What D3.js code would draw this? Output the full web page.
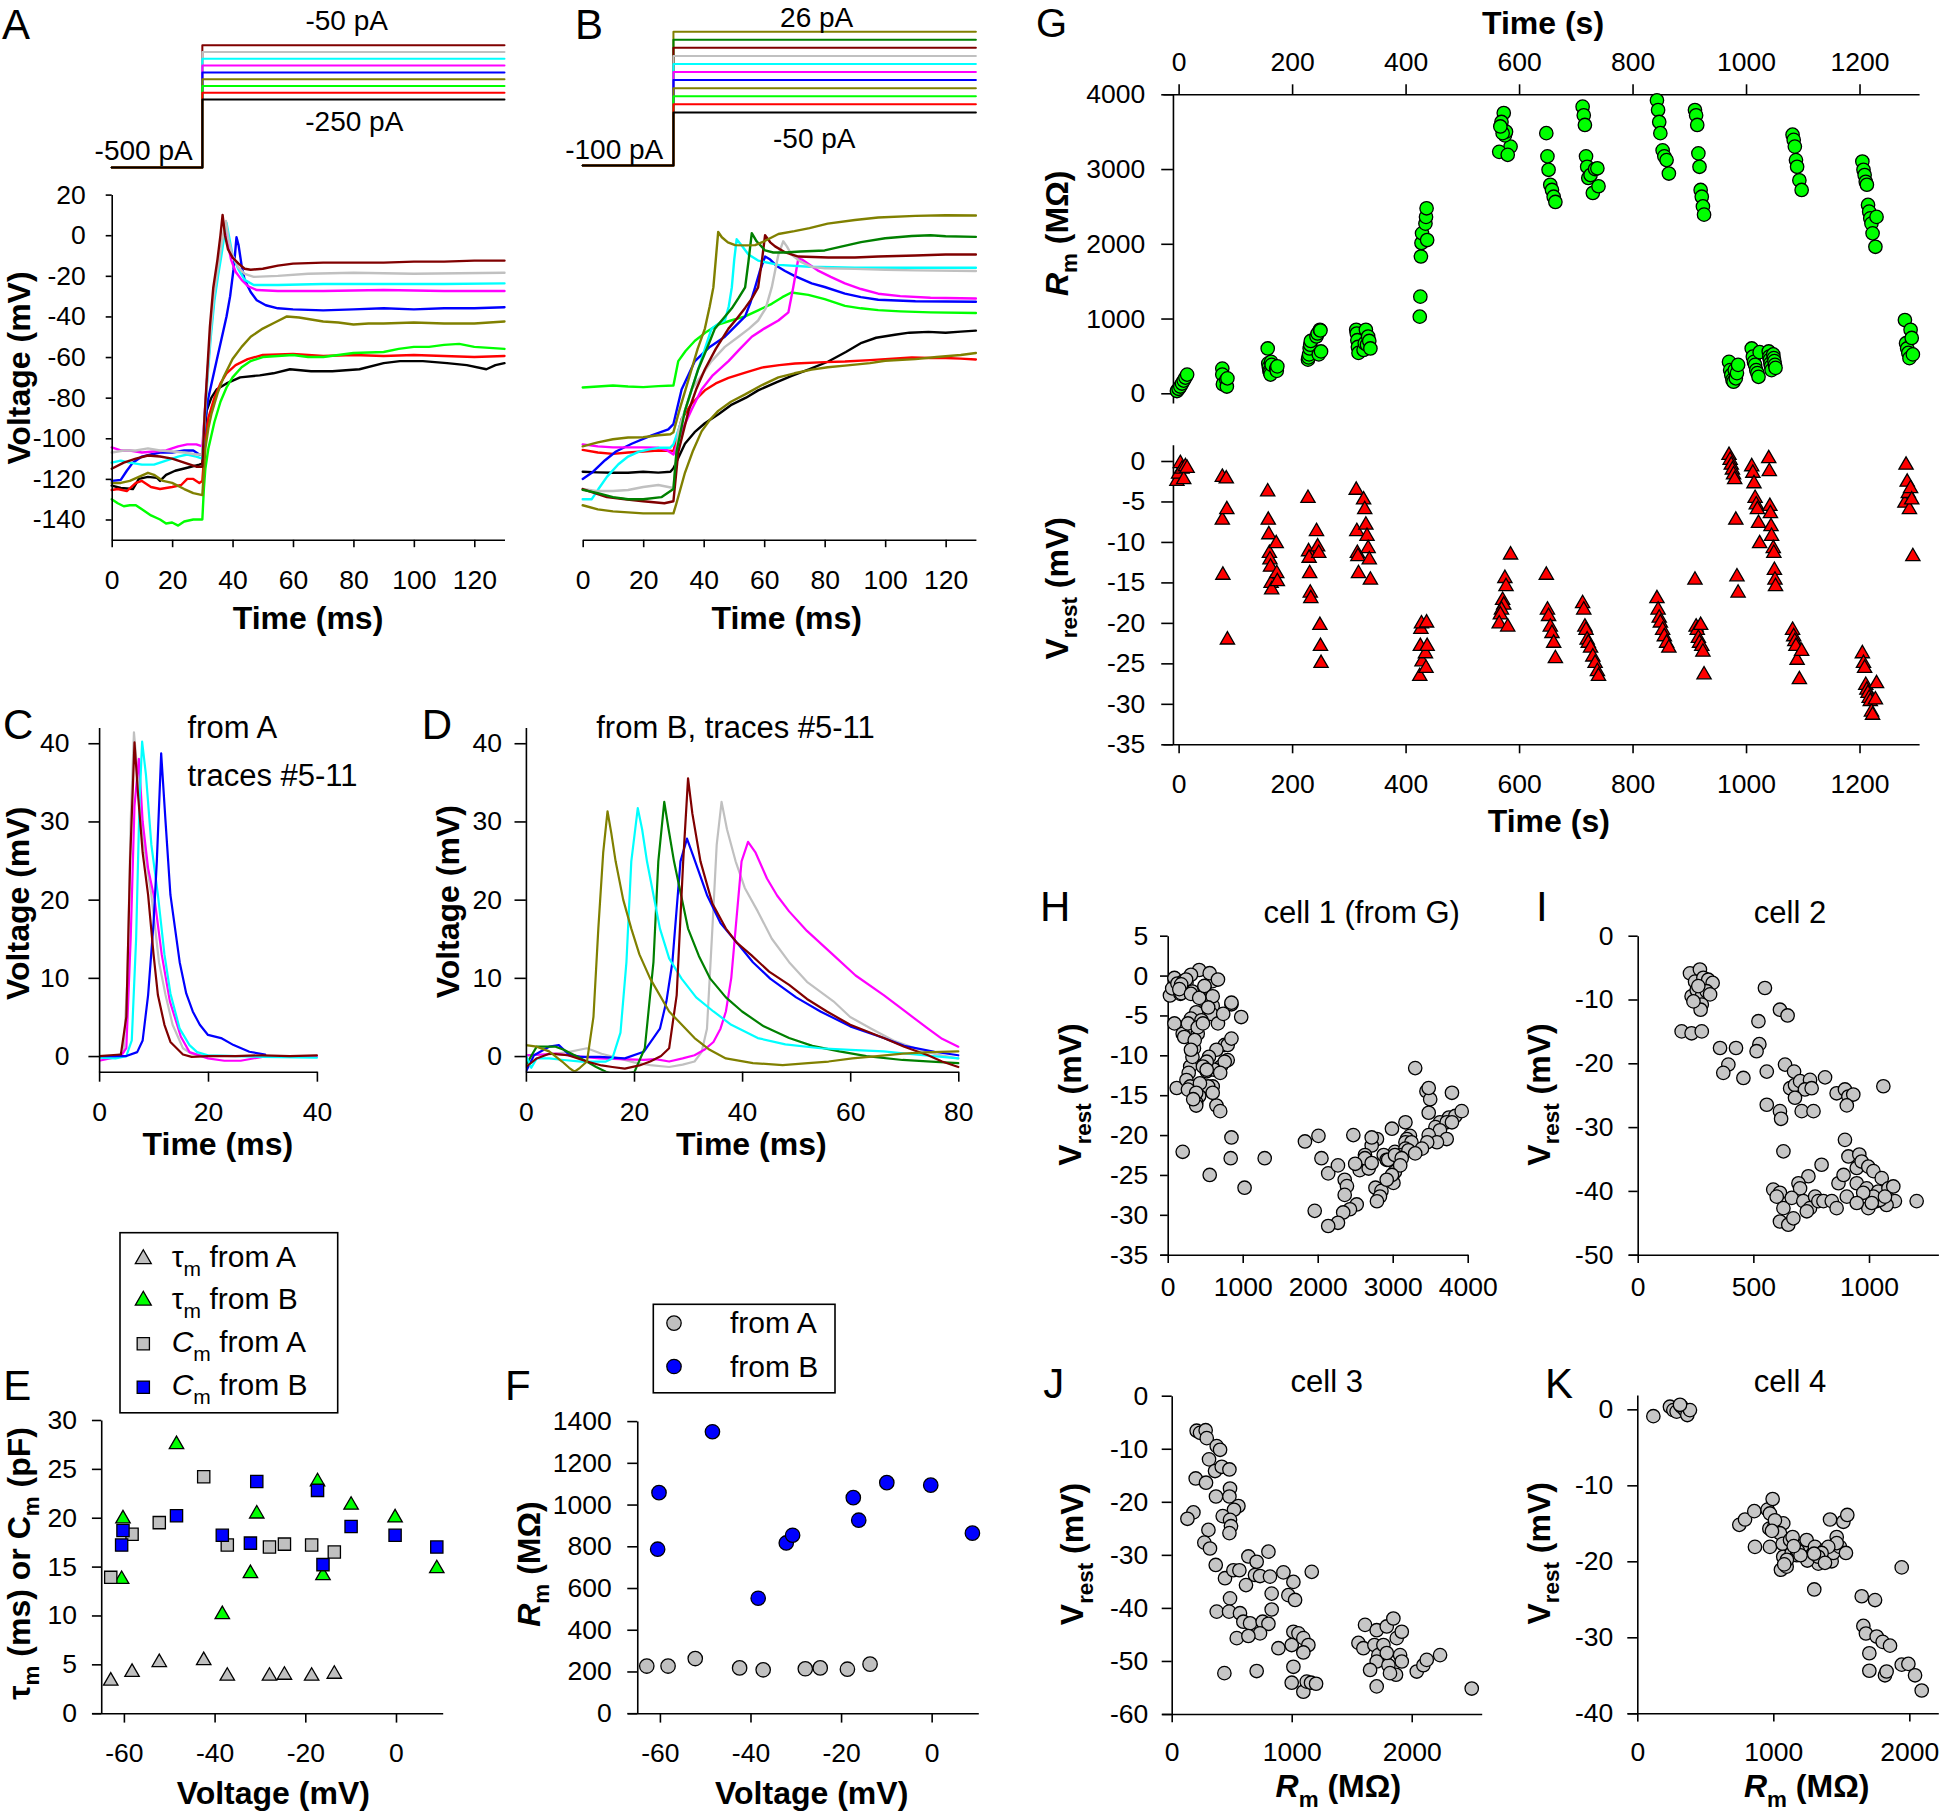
<!DOCTYPE html>
<html><head><meta charset="utf-8">
<script src="https://cdn.jsdelivr.net/npm/d3@7"></script>
<style>html,body{margin:0;padding:0;background:#fff;}svg{display:block;}</style>
</head><body>
<svg id="fig" width="1944" height="1818" xmlns="http://www.w3.org/2000/svg"></svg>
<script>
// ================= DATA =================
// Panel A: current steps (pA) and voltage traces [time ms, mV]
const holdA = -500, stepOnset = 30, stepEnd = 130;
const stimA = [-250,-225,-200,-175,-150,-125,-100,-75,-50];
const colorsA = ['#000000','#ff0000','#00ff00','#808000','#0000ff','#ff00ff','#00ffff','#c0c0c0','#800000'];
const A_black = [[0,-123.3],[3,-124.5],[7,-125],[9,-120],[12,-119],[15,-119.5],[16,-121],[18,-118],[21,-116],[25,-114.5],[29,-113],[30,-112.5],[31.4,-86.5],[33,-80],[34.7,-76],[38,-73],[42.5,-70],[49,-69],[53.5,-68],[59,-66],[66,-67],[73,-67],[82,-66],[90,-63],[95.4,-62],[103,-62],[111,-63],[117.5,-64],[124,-66],[127,-64],[130,-63]];
const A_red = [[0,-125.5],[2,-125],[5,-126],[8,-122],[10,-121],[13,-124],[16,-125],[20,-124],[23,-123],[25,-120],[27,-120],[29,-122],[30,-121],[31,-100],[32,-90],[34,-80],[36,-73],[38,-68],[41,-64],[45,-61],[50,-59],[60,-58.5],[70,-59.5],[80,-59],[90,-59.5],[100,-59],[110,-59.5],[120,-60],[130,-59.5]];
const A_green = [[0,-130],[2,-132],[4,-133.5],[6,-133],[8,-133],[10,-135],[13,-138],[16,-140],[18,-142],[20,-141.5],[22,-143],[24,-141],[27,-140],[30,-140],[30.5,-125],[31,-115],[32,-105],[34,-92],[36,-82],[38,-75],[40,-70],[43,-65],[46,-62],[50,-60],[55,-59.5],[60,-59],[65,-60],[70,-60],[75,-59],[80,-58],[90,-57.5],[95,-56],[100,-55],[105,-55],[110,-54],[115,-53.5],[120,-55],[130,-56]];
const A_olive = [[0,-122],[3,-122],[6,-121],[9,-119],[12,-117],[14,-118],[17,-121],[20,-122],[24,-125],[27,-127],[30,-128],[31,-105],[32,-95],[33,-88],[35,-78],[37,-70],[40,-61],[43,-55],[46,-50],[50,-46],[54,-43],[58,-40],[62,-40.5],[66,-41.5],[70,-42.5],[75,-43],[80,-44],[85,-43.5],[90,-43.5],[100,-43],[110,-43.5],[120,-43.5],[130,-42.5]];
const A_blue = [[0,-121],[3,-120.5],[5,-116],[7,-112],[10,-109],[13,-108],[16,-107],[20,-107],[24,-106],[27,-106],[29,-108],[30,-108],[31,-90],[32,-80],[34.7,-62],[36.5,-50],[38,-40],[39.2,-30],[40.3,-17],[40.8,-9.5],[41.3,-1],[42,-5],[43,-15],[44,-22],[46,-28],[48,-32],[51,-34.5],[55,-36],[60,-36.5],[70,-37],[80,-36.5],[90,-36],[100,-36.5],[110,-36],[120,-36],[130,-35.5]];
const A_magenta = [[0,-104.5],[3,-106],[6,-106],[10,-107],[14,-106.5],[18,-106],[22,-104],[25,-103],[28,-103],[30,-104],[30.8,-88],[31.6,-70],[32.6,-50],[33.8,-32],[35,-20],[36,-10],[37,0],[37.6,3],[38.3,-3],[39.5,-12],[41,-18],[43,-22],[45,-25],[48,-27],[55,-27.5],[70,-27.5],[90,-27],[110,-27.5],[130,-27.5]];
const A_cyan = [[0,-112],[3,-111],[6,-112],[10,-113],[14,-113],[18,-111],[22,-109],[25,-108],[28,-109],[30,-110],[30.8,-90],[31.7,-70],[32.8,-50],[34,-32],[35.2,-20],[36.3,-10],[37.3,0],[38,6],[39,-2],[40,-10],[42,-17],[44,-22],[47,-24.5],[55,-24.5],[70,-24],[90,-24],[110,-24],[130,-23.7]];
const A_gray = [[0,-107],[4,-106],[8,-106],[12,-105],[16,-106],[20,-106.5],[24,-107],[28,-108],[30,-108],[30.8,-88],[31.7,-68],[32.7,-48],[33.8,-30],[35,-18],[36.2,-6],[37.2,3],[37.8,7],[38.6,-2],[40,-10],[42,-16],[44,-19],[47,-20.5],[55,-20],[65,-19],[80,-18.5],[100,-19],[130,-18.5]];
const A_brown = [[0,-115],[4,-112],[8,-110],[12,-108.5],[16,-109],[20,-110],[24,-112],[28,-114],[30,-114],[30.7,-90],[31.5,-70],[32.5,-45],[33.6,-26],[35,-12],[36,0],[36.7,10],[37.5,0],[38.5,-7],[40,-11],[42,-14],[44,-16.5],[46,-17],[50,-16.5],[55,-15],[60,-14],[70,-13.5],[80,-13.5],[90,-13.5],[100,-13],[110,-13],[120,-12.5],[130,-12.5]];

// Panel B
const holdB = -100;
const stimB = [-50,-42.4,-34.8,-27.2,-19.6,-12,-4.4,3.2,10.8,18.4,26];
const colorsB = ['#000000','#ff0000','#00ff00','#808000','#0000ff','#ff00ff','#00ffff','#c0c0c0','#800000','#008000','#808000'];
const B_black = [[0,-116.5],[5,-116.8],[10,-117],[15,-117],[20,-116.5],[25,-116.9],[29,-116.5],[30,-114.8],[33.8,-102.7],[37,-97],[40.4,-92.6],[45,-88],[49.3,-83.4],[54,-80],[58,-76.4],[64,-72.5],[69.1,-69.3],[75,-66],[81.2,-62.2],[87,-57.5],[92.2,-53],[97,-50.5],[103.2,-49],[108,-48],[114.3,-47.6],[120,-48],[125,-47.5],[130,-47]];
const B_red = [[0,-105.7],[5,-107],[10,-107.7],[15,-107],[20,-106.5],[25,-106],[30,-106.3],[32.7,-90.5],[36,-83],[40.4,-76.4],[44,-73],[48.2,-70.3],[54,-67.5],[59.2,-65.2],[65,-64],[70.2,-63.2],[80,-62.5],[86.7,-62.2],[95,-61.5],[100,-61],[108.8,-60.2],[115,-60.5],[120,-60.5],[125,-60.8],[130,-61.2]];
const B_green = [[0,-75],[5,-74.5],[10,-74],[15,-74.5],[20,-74.8],[25,-74.3],[30,-74],[31.6,-62],[34,-57],[37.1,-52],[41,-47.5],[44.8,-44],[49,-42],[53.7,-40],[58,-37],[62.5,-33.8],[66,-30.5],[69,-28.2],[74.6,-29.4],[80,-31.5],[86.7,-34.8],[92,-36],[97.7,-36.9],[105,-37.5],[115,-38],[130,-38.3]];
const B_olive2 = [[0,-133],[5,-135],[10,-136],[15,-136.5],[20,-137],[25,-137],[30,-137],[31,-132],[33.8,-117],[36.5,-106],[39.3,-96.6],[42,-91],[44.8,-86.5],[49,-82],[53.7,-78.4],[59,-74],[64.7,-70],[70,-68],[75.7,-66.2],[81,-65],[86.7,-64.2],[95,-63],[100,-61.8],[110,-61],[117,-60],[125,-59],[130,-58]];
const B_blue = [[0,-120],[3,-117],[7.4,-110.8],[11,-106.5],[16.2,-102.7],[22.8,-98.6],[28.3,-95.6],[30,-93],[32.7,-76],[37.1,-62],[42,-55],[47,-50],[50,-45.5],[53.7,-40],[55.5,-33],[57,-25.7],[58.5,-18],[60.3,-10.5],[62,-12],[64,-15],[66.9,-17.6],[70,-20],[75.7,-23.7],[80,-25.5],[86.7,-28.8],[92,-30.5],[97.7,-31.8],[110,-32.5],[130,-32.8]];
const B_magenta = [[0,-103],[5,-104],[10,-104.5],[15,-104.5],[20,-104.5],[25,-104.7],[28,-106],[30,-108],[32.7,-96.6],[36,-86],[39.3,-76],[43,-69],[48.2,-62],[52,-56],[55.9,-50],[60,-46],[64.7,-42],[68,-38],[69.6,-25.7],[71.3,-11.5],[72.5,-12],[75,-14.5],[78,-17.6],[82,-20.5],[86.7,-23.7],[92,-26.5],[97.7,-28.8],[105,-30],[115,-30.8],[130,-31.2]];
const B_cyan = [[0,-130],[3,-130],[5.2,-125],[8,-119],[11.8,-112.8],[15,-109],[18.4,-106.7],[22,-105.5],[25,-104.7],[28.9,-104.7],[30,-103],[33.8,-86.5],[38.2,-66],[42.6,-46],[45,-43.5],[47,-42],[48.3,-35],[49.3,-25.7],[50.1,-12],[50.9,-2],[52.5,-5],[54.8,-9.5],[58,-12.5],[64.7,-14.6],[75,-15.5],[90,-16],[110,-16],[130,-16]];
const B_gray = [[0,-125],[5,-126],[10,-126],[15,-125.5],[20,-124],[25,-123],[30,-124.5],[31.6,-96.6],[36,-76],[42.6,-62],[47,-55],[51.5,-50],[55,-46],[58,-42],[60.5,-36],[62.5,-25.7],[64.7,-9.5],[66.3,-3],[67.5,-5.5],[69,-9.5],[72,-13],[75.7,-15.6],[80,-16.3],[90,-16.6],[100,-17],[110,-17.3],[130,-17.6]];
const B_brown = [[0,-125],[4,-127],[8,-129],[14,-130],[20,-131],[27,-132],[30,-131],[31.6,-106.7],[35,-86.5],[37.5,-76],[40.4,-66],[44,-56],[48.2,-46],[51,-41],[53.7,-35.8],[56,-31],[58,-25.7],[59.3,-12],[60.3,0],[62,-3.5],[63.6,-5.5],[67,-8.5],[71.3,-10.5],[81.2,-11],[90,-11],[97.7,-10.5],[110,-10],[120,-9.5],[130,-9.5]];
const B_dkgreen = [[0,-125.4],[5,-127],[10,-129],[15,-130],[20,-130],[26,-129],[30,-125],[31,-106.7],[33.8,-86.5],[36,-76],[38.2,-66],[41,-56],[43.7,-46],[46.5,-41],[49.3,-36],[51.5,-31],[53.7,-25.7],[54.8,-13],[55.9,1],[57.5,-3],[60.3,-7.5],[63,-8.5],[66.9,-8.5],[72,-8],[80,-7.5],[92,-3.4],[100,-1.5],[108.8,-0.4],[115,0],[120,-0.5],[130,-0.8]];
const B_olive1 = [[0,-104],[5,-102],[10,-100.5],[15,-99.6],[20,-99.5],[25,-98.5],[29,-98],[30,-97],[32,-86],[34,-76],[36,-66],[38,-56],[40.4,-46],[42,-35],[43.2,-25.7],[44,-12],[44.8,1.6],[46,-1],[48,-3.5],[50.4,-4.9],[54,-5],[57,-4.9],[60,-3],[64.7,0.6],[70,2],[75,3.5],[81,5.7],[90,7.5],[97.7,8.7],[110,9.5],[120,9.8],[130,9.7]];

// Panel C (from A, traces #5-11)
const C_gray = [[0,0],[3,0],[4.5,0.5],[5.2,10],[5.8,30],[6.4,41.4],[7.2,35],[8,28],[9.6,20.6],[11,12],[12.2,7.8],[13.5,4],[15.4,1],[17,0.3],[19,0.1],[25,0],[40,0]];
const C_magenta = [[0,-0.6],[2,-0.3],[4,0],[5,1],[5.8,15],[6.5,32],[7.3,38],[8,30],[9,24],[10.2,20],[11.5,13],[13,7],[15,2.5],[16.6,0.5],[20,-0.3],[23,-0.6],[26,-0.6],[30,-0.1],[40,0]];
const C_cyan = [[0,-0.2],[3,-0.3],[5,0],[6,2],[6.8,15],[7.4,32],[7.9,40.2],[8.6,36],[9.6,27],[10.8,20.6],[12,13],[13.1,8],[14.8,3.5],[16.6,1.4],[18,0.5],[20,0.1],[30,-0.1],[40,-0.2]];
const C_blue = [[0,0],[3,0],[5,0],[7,0.5],[8,2],[9,7.8],[10,17],[10.6,24.9],[11.4,38.7],[12.2,30],[13.1,20.6],[14.8,12],[16,8],[17.2,5.7],[18.5,4],[20,2.7],[22.4,2.3],[24.7,1.4],[27.6,0.55],[30.5,0.2]];
const C_brown = [[0,0],[2,0.1],[4,0.2],[5,5],[5.7,25],[6.5,40.1],[7.2,33],[8,26],[9,20.6],[10,13],[10.8,7.8],[12,4],[13.1,1.8],[15.4,0.2],[17,-0.1],[20,0],[25,0],[30,0.1],[35,0],[40,0.1]];

// Panel D (from B, traces #5-11)
const D_olive = [[0,1.4],[2,1.2],[4.3,0.6],[6.7,-0.7],[8,-1.5],[9,-2],[10,-1.5],[11.3,-0.7],[12.5,5],[13.4,16.3],[14.3,26],[15.1,31.3],[15.8,28.5],[16.6,24.9],[18,20],[19.5,16.3],[21,13],[23,9.9],[26.5,5.7],[31.2,2.3],[34,0.8],[37,-0.3],[42,-0.9],[47.5,-1.15],[52.2,-0.9],[56,-0.7],[60.4,-0.3],[65,0],[69.7,0.3],[75,0.5],[80,0.6]];
const D_cyan = [[0,0.1],[1,-1.5],[2,-0.3],[4.3,-0.3],[7,-0.5],[10.2,-0.7],[14.8,-0.7],[16,-0.3],[17.5,3],[18.6,12],[19.5,24.9],[20.7,31.7],[21.5,29],[22.4,24.9],[24.8,16.3],[26.5,12.5],[28.8,9.9],[31.5,7.5],[34.7,5.7],[38,4],[42.9,2.3],[48,1.5],[54.5,1],[60,0.8],[66.2,0.6],[72,0.2],[80,-0.3]];
const D_dkgreen = [[0,-1.15],[2,1.2],[5.5,1.2],[7,0.8],[9,0.1],[11,-0.6],[13,-1.4],[14.8,-2],[17,-2.5],[20.1,-2],[22,1],[23.6,12],[24.5,24.9],[25.6,32.5],[26.4,29],[27.4,24.9],[30,16.3],[32,12.8],[34.1,9.9],[37,7.5],[40,5.7],[44,3.8],[48.7,2.3],[53,1.3],[58,0.6],[63,0],[69.7,-0.5],[75,-0.7],[80,-0.9]];
const D_blue = [[0,-2],[1.5,0.1],[4.3,1.2],[6.1,1.4],[7.8,0.3],[10,-0.1],[13.7,-0.1],[18.3,-0.3],[21.8,0.55],[24.8,3.5],[26,7],[27.1,12],[28.6,24.9],[29.8,27.8],[31,25.5],[33.5,20.6],[36,17],[39.4,14.2],[42,12],[45.2,9.9],[50,7.5],[54.5,5.7],[60,3.8],[66.2,2.3],[70,1.3],[75.6,0.55],[80,0.1]];
const D_brown = [[0,-1.4],[2,-0.3],[4.3,0.3],[7.8,0.1],[11.3,-0.7],[14,-1.2],[16,-1.4],[18.3,-1.6],[21,-1.2],[23,-0.7],[25,0],[26.5,1],[27.9,7.8],[29.1,24.9],[30,35.5],[30.8,31],[32.3,24.9],[34.5,19.5],[37,16.3],[39,14.5],[41.7,12.9],[45,10.8],[48.7,9.1],[52,7.3],[55.7,5.7],[60,4],[66.2,2.3],[70,1.2],[74.4,0.1],[77,-0.7],[80,-1.4]];
const D_gray = [[0,0.1],[4,0.2],[7.8,0.5],[11.3,1],[14,0.3],[17.2,-0.3],[20,-0.8],[23,-1.15],[26.5,-1.4],[29,-1.1],[31.2,-0.7],[32.5,0.5],[33.5,3.5],[34.5,16.3],[35.3,27],[36.2,32.5],[37.2,29],[38.8,24.9],[40.5,21.5],[42.9,18.5],[45.5,15],[48.7,12],[52,9.5],[56.9,7],[60,5],[63.9,3.5],[68,2],[72,1],[76,0.2],[80,-0.3]];
const D_magenta = [[0,0.1],[3,0.2],[5.5,0.3],[9,0],[13.7,-0.3],[17.5,-0.4],[21.8,-0.5],[24,-0.4],[26.5,-0.7],[29,-0.3],[31.2,0.1],[33,0.8],[34.7,1.8],[36,3.5],[37,5.7],[38,10],[38.8,16.3],[39.9,24.9],[41.1,27.4],[42.5,26],[44.6,22.7],[46.5,20.5],[48.7,18.5],[52,16],[56.9,12.9],[61,10.3],[66.2,7.8],[70,5.8],[74.4,3.5],[77,2.2],[80,1.2]];

// Panels E, F: per-trace voltages and fitted parameters
const vA = [-62.9,-58.2,-52.2,-42.4,-37.2,-27.9,-24.6,-18.6,-13.6];
const tauA = [3.3,4.2,5.2,5.4,3.8,3.8,3.9,3.8,4.0];
const capA = [13.9,18.3,19.5,24.2,17.2,17.0,17.3,17.2,16.5];
const rmA = [226,226,262,217,208,213,217,211,235];
const vB = [-60.5,-60.2,-48.4,-38.3,-32.1,-30.7,-17.3,-16.1,-9.9,-0.2,9.0];
const tauB = [13.7,19.9,27.5,10.1,14.3,20.4,23.7,14.1,21.3,20.0,14.8];
const capB = [17.2,18.7,20.2,18.2,17.4,23.7,22.8,15.2,19.1,18.2,17.0];
const rmB = [786,1057,1349,551,816,853,1033,925,1105,1093,863];

// Panel G: time (s), Rm (MOhm), Vrest (mV) -- cell 1 (also used for H)
const gTime = [
-3,0,3,6,9,12,15,
77,77,78,84,85,86,
157,158,159,160,161,162,163,164,172,173,174,
228,229,230,231,232,233,243,245,247,249,250,251,
313,314,315,316,317,326,328,330,332,334,336,338,
425,426,427,428,429,435,436,437,438,
585,575,577,571,573,569,567,565,580,
648,650,652,655,658,661,664,
712,714,716,718,720,722,726,730,734,738,740,
843,845,847,849,853,856,860,864,
910,912,914,916,918,920,922,924,926,
970,972,974,976,978,980,982,984,986,
1010,1012,1014,1016,1018,1020,1022,1024,
1040,1041,1042,1043,1044,1045,1048,1049,1050,1051,1052,
1082,1084,1086,1088,1090,1094,1098,
1205,1207,1209,1211,1213,1215,1217,1219,1221,1223,1228,1230,
1280,1282,1284,1286,1288,1290,1292,1294];
const gRm = [
30,60,90,130,170,210,250,
330,250,120,180,90,200,
600,400,350,300,280,250,420,380,330,300,360,
450,480,520,600,650,700,760,800,520,850,840,560,
850,800,710,620,540,580,670,850,650,760,700,600,
1025,1293,1830,2010,2140,2270,2360,2475,2050,
3300,3450,3500,3480,3750,3630,3570,3230,3190,
3480,3170,2990,2790,2720,2630,2560,
3835,3720,3590,3170,3030,2880,2920,2680,3000,3010,2770,
3920,3790,3630,3480,3250,3170,3120,2940,
3790,3720,3590,3210,3030,2720,2630,2500,2390,
420,310,245,180,155,310,200,270,380,
600,490,420,380,310,270,220,550,
560,490,450,400,360,310,520,470,430,380,340,
3460,3390,3300,3120,3030,2850,2720,
3100,2990,2920,2830,2790,2520,2430,2340,2270,2140,1960,2360,
980,670,600,540,470,850,740,520];
const gVrest = [
-2.5,-1.6,-0.3,-1.0,-2.3,-0.7,-0.9,
-2.0,-7.3,-14.1,-2.2,-6.0,-22.1,
-3.8,-7.3,-9.1,-11.4,-12.2,-13.1,-15.1,-15.9,-10.2,-13.9,-14.9,
-4.6,-11.2,-12.0,-13.9,-16.3,-17.0,-8.7,-10.6,-11.4,-20.3,-22.9,-25.0,
-3.6,-8.7,-11.4,-11.8,-13.9,-4.8,-6.0,-7.9,-9.3,-10.8,-12.2,-14.7,
-26.6,-22.9,-20.8,-20.1,-24.8,-23.8,-25.6,-20.0,-22.9,
-11.6,-14.5,-15.5,-17.2,-17.8,-18.4,-19.0,-20.1,-20.5,
-14.1,-18.4,-19.2,-20.5,-21.3,-22.5,-24.4,
-17.6,-18.4,-20.5,-20.9,-22.1,-22.5,-23.1,-24.2,-25.0,-26.0,-26.6,
-17.0,-18.4,-19.4,-20.0,-20.9,-21.7,-22.5,-23.1,
-14.7,-20.5,-20.9,-21.9,-22.5,-20.3,-22.9,-23.6,-26.4,
0.7,0.1,-0.5,-1.1,-1.7,-2.3,-7.3,-14.3,-16.3,
-0.7,-1.5,-2.8,-4.6,-5.4,-6.0,-7.7,-10.2,
0.3,-1.3,-5.6,-6.5,-8.1,-9.3,-10.8,-11.4,-13.5,-14.7,-15.5,
-20.9,-21.7,-22.3,-22.9,-24.6,-27.0,-23.5,
-23.8,-25.0,-25.6,-27.7,-28.3,-28.7,-29.3,-29.7,-31.0,-31.4,-29.5,-27.5,
-5.2,-0.5,-2.6,-4.0,-6.0,-3.4,-4.8,-11.8];

// Panel I: cell 2
const iRm = [226,248,269,284,305,324,233,255,277,298,313,277,272,262,241,
190,233,277,550,522,526,514,356,425,392,370,457,558,615,648,637,676,659,680,702,745,723,752,680,810,709,760,558,615,620,860,896,911,932,904,1062,
630,896,911,958,795,738,947,968,997,1019,586,615,601,630,615,651,673,695,702,666,716,745,767,781,731,803,839,860,868,890,904,947,990,997,1033,1040,1055,1084,1105,1112,1076,1048,1019,975,1206,1012,1069,947];
const iV = [-5.9,-7.2,-5.3,-6.6,-6.9,-7.4,-9.5,-8.5,-9.5,-8.7,-9.2,-10.8,-11.6,-7.9,-10.3,
-15.0,-15.3,-15.0,-8.2,-13.4,-17.0,-18.1,-17.6,-17.6,-20.2,-21.5,-22.3,-21.3,-11.6,-12.5,-20.2,-21.3,-23.9,-23.4,-22.8,-22.6,-24.1,-23.9,-25.4,-22.2,-27.5,-27.5,-26.5,-27.5,-28.7,-24.7,-24.1,-25.2,-24.9,-26.6,-23.6,
-33.8,-32.0,-34.6,-34.3,-35.9,-37.7,-36.4,-35.4,-36.2,-36.9,-39.8,-40.3,-40.9,-42.7,-44.8,-45.3,-44.3,-38.8,-39.6,-41.1,-41.6,-42.7,-40.9,-41.6,-43.2,-41.6,-41.6,-42.7,-38.8,-37.5,-40.9,-38.8,-39.6,-42.7,-41.6,-40.1,-38.0,-39.6,-39.3,-41.6,-42.2,-41.4,-40.9,-40.3,-41.6,-41.9,-40.9,-41.9];

// Panel J: cell 3
const jRm = [208,236,283,292,375,403,311,361,417,481,200,286,486,369,481,556,519,181,131,425,486,494,481,306,272,319,367,444,514,564,639,708,694,806,736,819,619,931,1014,1167,833,972,1028,486,375,478,569,833,597,653,758,806,736,542,639,889,1000,1014,1056,1097,1139,1097,1014,1000,1097,1125,1161,1203,439,708,
1556,1597,1611,1689,1708,1722,1708,1653,1708,1764,1792,1806,1847,1875,1869,1903,1917,1917,1819,2042,2097,2125,2236,2500,1792];
const jV = [-6.6,-7.0,-6.5,-8.0,-9.5,-10.2,-12.0,-14.2,-13.4,-13.9,-15.6,-16.4,-17.5,-19.0,-19.0,-20.8,-21.5,-22.0,-23.2,-22.7,-23.4,-24.6,-25.9,-25.3,-27.7,-28.8,-31.9,-34.4,-32.9,-32.9,-30.3,-31.3,-33.8,-29.4,-34.0,-34.1,-35.7,-33.3,-35.1,-33.2,-37.3,-37.6,-38.5,-38.2,-40.7,-40.7,-41.0,-40.3,-42.6,-42.9,-42.6,-43.0,-44.8,-45.7,-45.3,-47.6,-47.0,-44.5,-44.8,-45.7,-47.0,-48.4,-51.1,-54.1,-55.8,-53.9,-54.1,-54.3,-52.3,-51.9,
-46.6,-47.6,-43.2,-47.0,-44.2,-48.9,-50.1,-51.7,-54.8,-47.0,-43.5,-50.8,-42.0,-45.7,-52.6,-48.9,-50.1,-44.5,-52.3,-52.0,-50.8,-49.8,-48.9,-55.2,-48.5];

// Panel K: cell 4
const kRm = [118,240,265,289,326,350,368,387,314,
750,792,860,865,958,995,975,971,1007,975,1073,1049,1069,1073,1056,1098,1123,1135,1142,1220,1245,1269,1294,1306,1331,1301,1380,1394,1429,1441,1417,1466,1490,1515,1534,1544,1466,1404,1355,1172,1012,1100,1180,1250,1330,1380,1200,1080,1300,990,1150,
1944,1650,1748,1662,1681,1760,1804,1858,1706,1706,1821,1833,1944,1993,2042,2091];
const kV = [-0.9,0.35,-0.1,-0.3,0.35,-0.1,-0.75,-0.1,0.6,
-15.2,-14.5,-13.4,-18.1,-13.2,-11.8,-13.7,-15.7,-15.4,-18.1,-15.0,-16.3,-17.7,-19.4,-21.1,-20.7,-17.2,-18.9,-16.8,-17.9,-17.2,-19.6,-18.9,-18.1,-20.3,-23.7,-18.5,-19.6,-20.0,-18.9,-14.5,-16.8,-18.1,-14.8,-18.9,-13.9,-17.6,-18.1,-18.9,-19.2,-14.6,-19.8,-18.6,-19.9,-19.4,-20.2,-19.2,-20.4,-19.0,-16.0,-18.0,
-20.8,-24.6,-25.1,-28.5,-29.5,-29.9,-30.6,-31.1,-32.1,-34.4,-35.0,-34.5,-33.6,-33.5,-35.0,-37.0];

// ================= DRAWING =================
const FONT = "'Liberation Sans', Arial, Helvetica, sans-serif";
const svg = d3.select('#fig').attr('font-family', FONT);
svg.append('rect').attr('width',1944).attr('height',1818).attr('fill','#fff');
const TICK = 26.5, TITLE = 32, NOTE = 31, LETTER = 42;
const defs = svg.append('defs');

function rich(t, parts, size) {
  let shift = 0;
  parts.forEach(p => {
    const ts = t.append('tspan').text(p.t);
    if (p.i) ts.attr('font-style','italic');
    if (p.sub) { const d = size*0.3; ts.attr('font-size', size*0.7).attr('dy', d - shift); shift = d; }
    else if (shift) { ts.attr('dy', -shift); shift = 0; }
  });
}
function label(x, y, parts, o) {
  o = Object.assign({size:TITLE, weight:'normal', anchor:'middle', rot:0}, o||{});
  const t = svg.append('text').attr('font-size', o.size).attr('font-weight', o.weight)
    .attr('text-anchor', o.anchor).attr('fill','#000')
    .attr('transform', `translate(${x},${y})` + (o.rot ? ` rotate(${o.rot})` : ''));
  if (typeof parts === 'string') t.text(parts); else rich(t, parts, o.size);
  return t;
}
function axis(gen, x, y) {
  const a = svg.append('g').attr('transform', `translate(${x},${y})`).call(gen.tickFormat(d => String(d)).tickSizeOuter(0));
  a.attr('font-size', TICK).attr('font-family', FONT);
  a.select('.domain').attr('stroke','#000').attr('stroke-width', 1.6);
  a.selectAll('.tick line').attr('stroke','#000').attr('stroke-width', 1.6);
  a.selectAll('.tick text').attr('fill', '#000');
  return a;
}
function clip(id, x0, y0, x1, y1) {
  defs.append('clipPath').attr('id', id).append('rect').attr('x', x0).attr('y', y0).attr('width', x1-x0).attr('height', y1-y0);
}
function trace(data, xs, ys, color, w, clipId) {
  const gen = d3.line().x(d => xs(d[0])).y(d => ys(d[1]));
  const p = svg.append('path').attr('d', gen(data)).attr('fill','none').attr('stroke', color)
    .attr('stroke-width', w || 2.2).attr('stroke-linejoin','round').attr('stroke-linecap','round');
  if (clipId) p.attr('clip-path', `url(#${clipId})`);
}
function stimPath(hold, level) { return [[0,hold],[stepOnset,hold],[stepOnset,level],[stepEnd,level]]; }
const tri = (a) => d3.symbol().type(d3.symbolTriangle).size(a)();
const sq = (a) => d3.symbol().type(d3.symbolSquare).size(a)();
function markers(xs, ys, xv, yv, shape, fill) {
  svg.append('g').selectAll('path').data(xv.map((v,i) => [v, yv[i]])).join('path')
    .attr('d', shape).attr('transform', d => `translate(${xs(d[0])},${ys(d[1])})`)
    .attr('fill', fill).attr('stroke', '#000').attr('stroke-width', 1.3);
}
function dots(xs, ys, xv, yv, r, fill) {
  svg.append('g').selectAll('circle').data(xv.map((v,i) => [v, yv[i]])).join('circle')
    .attr('cx', d => xs(d[0])).attr('cy', d => ys(d[1])).attr('r', r)
    .attr('fill', fill).attr('stroke', '#000').attr('stroke-width', 1.3);
}

// ---------- Panel A ----------
const xA = d3.scaleLinear([0,130],[111.7,504.5]);
const yA = d3.scaleLinear([-150,20],[539.8,194.6]);
const sA = d3.scaleLinear([-500,-50],[167.5,45.2]);
stimA.map((lv,i) => [lv,i]).reverse().forEach(([lv,i]) => trace(stimPath(holdA, lv), xA, sA, colorsA[i], 2));
[A_black,A_red,A_green,A_olive,A_blue,A_magenta,A_cyan,A_gray,A_brown].forEach((tr,i) => trace(tr, xA, yA, colorsA[i], 2.4));
axis(d3.axisLeft(yA).tickValues(d3.range(-140,21,20)).tickSize(6).tickPadding(20), xA(0), 0);
axis(d3.axisBottom(xA).tickValues(d3.range(0,121,20)).tickSize(7.4).tickPadding(22.8), 0, yA(-150));
label(308, 629, 'Time (ms)', {weight:'bold'});
label(29.6, 368, 'Voltage (mV)', {weight:'bold', rot:-90});
label(346.7, 30, '-50 pA', {size:28});
label(354.3, 131, '-250 pA', {size:28});
label(192.7, 160, '-500 pA', {size:28, anchor:'end'});
label(2, 39, 'A', {size:LETTER, anchor:'start'});

// ---------- Panel B ----------
const xB = d3.scaleLinear([0,130],[582.7,975.9]);
const yB = d3.scaleLinear([-150,20],[539.8,194.6]);
const sB = d3.scaleLinear([-100,26],[165.5,31.7]);
stimB.map((lv,i) => [lv,i]).reverse().forEach(([lv,i]) => trace(stimPath(holdB, lv), xB, sB, colorsB[i], 2));
[B_black,B_red,B_green,B_olive2,B_blue,B_magenta,B_cyan,B_gray,B_brown,B_dkgreen,B_olive1].forEach((tr,i) => trace(tr, xB, yB, colorsB[i], 2.4));
axis(d3.axisBottom(xB).tickValues(d3.range(0,121,20)).tickSize(7.4).tickPadding(22.8), 0, yB(-150));
label(786.7, 629, 'Time (ms)', {weight:'bold'});
label(816.7, 27, '26 pA', {size:28});
label(814.3, 147.5, '-50 pA', {size:28});
label(663.3, 158.6, '-100 pA', {size:28, anchor:'end'});
label(575, 39, 'B', {size:LETTER, anchor:'start'});

// ---------- Panel C ----------
const xC = d3.scaleLinear([0,40],[99.1,316.9]);
const yC = d3.scaleLinear([-2,42],[1071.7,727.6]);
clip('clipC', 99.1, 700, 330, 1071.7);
[C_gray,C_magenta,C_cyan,C_blue,C_brown].forEach((tr,i) => trace(tr, xC, yC, ['#c0c0c0','#ff00ff','#00ffff','#0000ff','#800000'][i], 2.2, 'clipC'));
axis(d3.axisLeft(yC).tickValues(d3.range(0,41,10)).tickSize(10.7).tickPadding(19), xC(0), 0);
axis(d3.axisBottom(xC).tickValues([0,20,40]).tickSize(10).tickPadding(20.8), 0, yC(-2));
label(217.8, 1155, 'Time (ms)', {weight:'bold'});
label(29.2, 903.3, 'Voltage (mV)', {weight:'bold', rot:-90});
label(187.5, 738.3, 'from A', {size:NOTE, anchor:'start'});
label(187.5, 785.7, 'traces #5-11', {size:NOTE, anchor:'start'});
label(3, 739, 'C', {size:LETTER, anchor:'start'});

// ---------- Panel D ----------
const xD = d3.scaleLinear([0,80],[525.9,958.3]);
const yD = d3.scaleLinear([-2,42],[1071.7,727.6]);
clip('clipD', 525.9, 700, 970, 1071.7);
[D_gray,D_magenta,D_blue,D_dkgreen,D_cyan,D_brown,D_olive].forEach((tr,i) => trace(tr, xD, yD, ['#c0c0c0','#ff00ff','#0000ff','#008000','#00ffff','#800000','#808000'][i], 2.2, 'clipD'));
axis(d3.axisLeft(yD).tickValues(d3.range(0,41,10)).tickSize(11.4).tickPadding(12.6), xD(0), 0);
axis(d3.axisBottom(xD).tickValues(d3.range(0,81,20)).tickSize(10).tickPadding(20.8), 0, yD(-2));
label(751.3, 1155, 'Time (ms)', {weight:'bold'});
label(458.5, 901.7, 'Voltage (mV)', {weight:'bold', rot:-90});
label(735.5, 738.3, 'from B, traces #5-11', {size:NOTE});
label(421.7, 739, 'D', {size:LETTER, anchor:'start'});

// ---------- Panel E ----------
const xE = d3.scaleLinear([-67.1,10.3],[91.7,442.7]);
const yE = d3.scaleLinear([0,30],[1713.2,1420]);
axis(d3.axisLeft(yE).tickValues(d3.range(0,31,5)).tickSize(9.3).tickPadding(15), xE(-65), 0);
axis(d3.axisBottom(xE).tickValues([-60,-40,-20,0]).tickSize(9.4).tickPadding(21), 0, yE(0));
markers(xE, yE, vA, tauA, tri(90), '#c0c0c0');
markers(xE, yE, vB, tauB, tri(90), '#00ff00');
markers(xE, yE, vA, capA, sq(150), '#c0c0c0');
markers(xE, yE, vB, capB, sq(150), '#0000ff');
label(273.3, 1803.7, 'Voltage (mV)', {weight:'bold'});
label(29.6, 1563.4, [{t:'τ'},{t:'m',sub:1},{t:' (ms) or C'},{t:'m',sub:1},{t:' (pF)'}], {weight:'bold', rot:-90});
label(3.3, 1400.4, 'E', {size:LETTER, anchor:'start'});
// legend E
svg.append('rect').attr('x',120).attr('y',1232.7).attr('width',217.7).attr('height',180.1).attr('fill','#fff').attr('stroke','#000').attr('stroke-width',1.6);
const legE = [
  {shape:tri(110), fill:'#c0c0c0', parts:[{t:'τ'},{t:'m',sub:1},{t:' from A'}]},
  {shape:tri(110), fill:'#00ff00', parts:[{t:'τ'},{t:'m',sub:1},{t:' from B'}]},
  {shape:sq(150), fill:'#c0c0c0', parts:[{t:'C',i:1},{t:'m',sub:1},{t:' from A'}]},
  {shape:sq(150), fill:'#0000ff', parts:[{t:'C',i:1},{t:'m',sub:1},{t:' from B'}]}];
const legEy = [1259, 1300.5, 1343.8, 1387.2];
legE.forEach((d,i) => {
  svg.append('path').attr('d', d.shape).attr('transform', `translate(143.3,${legEy[i]})`).attr('fill', d.fill).attr('stroke','#000').attr('stroke-width',1.3);
  label(171.7, legEy[i] + 8, d.parts, {size:30, anchor:'start'});
});

// ---------- Panel F ----------
const xF = d3.scaleLinear([-67.2,10.3],[627.3,978.3]);
const yF = d3.scaleLinear([0,1400],[1713.2,1421.1]);
axis(d3.axisLeft(yF).tickValues(d3.range(0,1401,200)).tickSize(10).tickPadding(15.6), xF(-65), 0);
axis(d3.axisBottom(xF).tickValues([-60,-40,-20,0]).tickSize(9.4).tickPadding(21), 0, yF(0));
dots(xF, yF, vA, rmA, 7.2, '#c0c0c0');
dots(xF, yF, vB, rmB, 7.2, '#0000ff');
label(811.7, 1803.7, 'Voltage (mV)', {weight:'bold'});
label(539.6, 1564, [{t:'R',i:1},{t:'m',sub:1},{t:' (MΩ)'}], {weight:'bold', rot:-90});
label(505, 1400.4, 'F', {size:LETTER, anchor:'start'});
svg.append('rect').attr('x',653.3).attr('y',1304.3).attr('width',181.7).attr('height',88.5).attr('fill','#fff').attr('stroke','#000').attr('stroke-width',1.6);
[['#c0c0c0','from A',1323.1],['#0000ff','from B',1366.5]].forEach(d => {
  svg.append('circle').attr('cx',674).attr('cy',d[2]).attr('r',7.2).attr('fill',d[0]).attr('stroke','#000').attr('stroke-width',1.3);
  label(730, d[2] + 10, d[1], {size:30, anchor:'start'});
});

// ---------- Panel G ----------
const xG = d3.scaleLinear([-27.7,1305],[1162.9,1919.1]);
const yG1 = d3.scaleLinear([-130,4000],[403,94.3]);
const yG2 = d3.scaleLinear([-35,2],[744.3,444.8]);
axis(d3.axisTop(xG).tickValues(d3.range(0,1201,200)).tickSize(10).tickPadding(13.4), 0, yG1(4000));
axis(d3.axisLeft(yG1).tickValues(d3.range(0,4001,1000)).tickSize(11.7).tickPadding(16), xG(-10), 0);
axis(d3.axisLeft(yG2).tickValues(d3.range(-35,1,5)).tickSize(11.7).tickPadding(16), xG(-10), 0);
axis(d3.axisBottom(xG).tickValues(d3.range(0,1201,200)).tickSize(9).tickPadding(20.8), 0, yG2(-35));
dots(xG, yG1, gTime, gRm, 6.7, '#00ff00');
markers(xG, yG2, gTime, gVrest, tri(88), '#ff0000');
label(1543, 34, 'Time (s)', {weight:'bold'});
label(1548.8, 831.7, 'Time (s)', {weight:'bold'});
label(1067.5, 233.3, [{t:'R',i:1},{t:'m',sub:1},{t:' (MΩ)'}], {weight:'bold', rot:-90});
label(1067.5, 588.3, [{t:'V'},{t:'rest',sub:1},{t:' (mV)'}], {weight:'bold', rot:-90});
label(1036, 37, 'G', {size:40, anchor:'start'});

// ---------- Panel H ----------
const xH = d3.scaleLinear([-102.7,4000],[1160,1467.7]);
const yH = d3.scaleLinear([-35,5],[1254.7,935.7]);
axis(d3.axisLeft(yH).tickValues(d3.range(-35,6,5)).tickSize(7.7).tickPadding(11.7), xH(0), 0);
axis(d3.axisBottom(xH).tickValues(d3.range(0,4001,1000)).tickSize(8.3).tickPadding(13.8), 0, yH(-35));
dots(xH, yH, gRm, gVrest, 6.7, '#c6c6c6');
label(1361.7, 923, 'cell 1 (from G)', {size:NOTE});
label(1081, 1094.5, [{t:'V'},{t:'rest',sub:1},{t:' (mV)'}], {weight:'bold', rot:-90});
label(1040, 921.3, 'H', {size:LETTER, anchor:'start'});

// ---------- Panel I ----------
const xI = d3.scaleLinear([-40.6,1300],[1628.3,1938.4]);
const yI = d3.scaleLinear([-50,0],[1254.7,935.7]);
axis(d3.axisLeft(yI).tickValues(d3.range(-50,1,10)).tickSize(9.3).tickPadding(15), xI(0), 0);
axis(d3.axisBottom(xI).tickValues([0,500,1000]).tickSize(8.3).tickPadding(13.8), 0, yI(-50));
dots(xI, yI, iRm, iV, 6.7, '#c6c6c6');
label(1790, 923, 'cell 2', {size:NOTE});
label(1549.5, 1094.5, [{t:'V'},{t:'rest',sub:1},{t:' (mV)'}], {weight:'bold', rot:-90});
label(1536, 921.3, 'I', {size:LETTER, anchor:'start'});

// ---------- Panel J ----------
const xJ = d3.scaleLinear([-83.3,2583],[1161.7,1481.7]);
const yJ = d3.scaleLinear([-60,0],[1714,1395.7]);
axis(d3.axisLeft(yJ).tickValues(d3.range(-60,1,10)).tickSize(10).tickPadding(13.4), xJ(0), 0);
axis(d3.axisBottom(xJ).tickValues([0,1000,2000]).tickSize(8.3).tickPadding(19.5), 0, yJ(-60));
dots(xJ, yJ, jRm, jV, 6.7, '#c6c6c6');
label(1326.7, 1391.7, 'cell 3', {size:NOTE});
label(1338.3, 1797, [{t:'R',i:1},{t:'m',sub:1},{t:' (MΩ)'}], {weight:'bold'});
label(1083, 1554, [{t:'V'},{t:'rest',sub:1},{t:' (mV)'}], {weight:'bold', rot:-90});
label(1043.3, 1398.3, 'J', {size:LETTER, anchor:'start'});

// ---------- Panel K ----------
const xK = d3.scaleLinear([-73.5,2213],[1627.3,1938.3]);
const yK = d3.scaleLinear([-40,1.9],[1713.3,1394.9]);
axis(d3.axisLeft(yK).tickValues(d3.range(-40,1,10)).tickSize(10).tickPadding(14), xK(0), 0);
axis(d3.axisBottom(xK).tickValues([0,1000,2000]).tickSize(8.3).tickPadding(20.2), 0, yK(-40));
dots(xK, yK, kRm, kV, 6.7, '#c6c6c6');
label(1790, 1391.7, 'cell 4', {size:NOTE});
label(1806.7, 1797, [{t:'R',i:1},{t:'m',sub:1},{t:' (MΩ)'}], {weight:'bold'});
label(1549.5, 1553.3, [{t:'V'},{t:'rest',sub:1},{t:' (mV)'}], {weight:'bold', rot:-90});
label(1545, 1398.3, 'K', {size:LETTER, anchor:'start'});
</script>
</body></html>
